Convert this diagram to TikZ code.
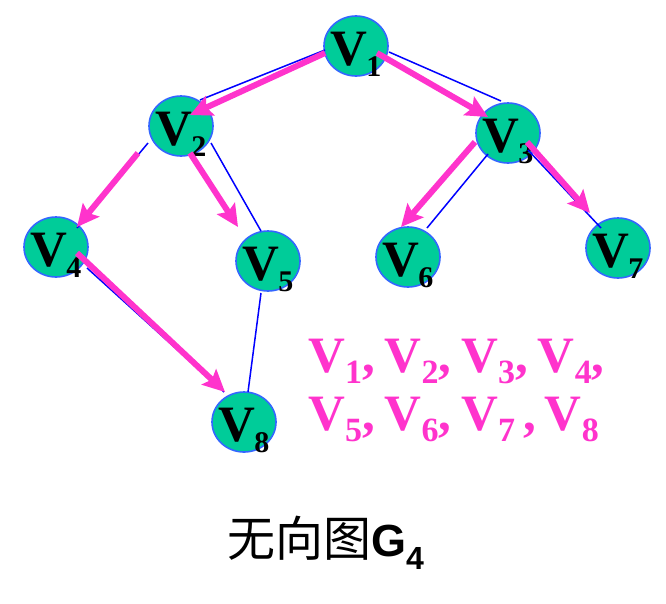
\documentclass[tikz,border=0pt]{standalone}
\usepackage{fontspec}
\setmainfont{Liberation Serif}
\newfontfamily\cjk{Noto Sans CJK SC}
\newfontfamily\arialfont{Liberation Sans}
\usetikzlibrary{arrows.meta,shapes.geometric}

\definecolor{nodefill}{HTML}{00CC99}
\definecolor{nodeborder}{HTML}{3366FF}
\definecolor{edgeblue}{HTML}{0000FF}
\definecolor{pathpink}{HTML}{FF33CC}

% subscript for the vertex labels inside the ellipses
\newcommand\vxsub[1]{\kern-1pt\raisebox{-11pt}{\fontsize{30}{30}\selectfont #1}}
% subscript for the visiting order list
\newcommand\lsub[1]{\raisebox{-11pt}{\fontsize{34}{34}\selectfont #1}}
% separator between the entries of the list
\newcommand\gap{\kern10pt}

\tikzset{
  vertex/.style={ellipse, draw=nodeborder, line width=1.6pt, fill=nodefill,
    minimum width=64pt, minimum height=60pt, inner sep=0pt},
  vlabel/.style={anchor=base, inner sep=0pt, text=black,
    font=\bfseries\fontsize{51}{51}\selectfont},
  edge/.style={draw=edgeblue, line width=1.5pt},
  visit/.style={draw=pathpink, line width=6pt,
    -{Stealth[length=22pt,width=21pt,inset=4pt]}},
  order/.style={anchor=base west, inner sep=0pt, text=pathpink,
    font=\bfseries\fontsize{51}{51}\selectfont},
}

\begin{document}
\begin{tikzpicture}[x=1pt,y=-1pt]
\useasboundingbox (0,0) rectangle (666,603);

% vertices
\node[vertex] (v1) at (356,46) {};
\node[vertex] (v2) at (181,126) {};
\node[vertex] (v3) at (508,133) {};
\node[vertex] (v4) at (56,247) {};
\node[vertex] (v5) at (268,261) {};
\node[vertex] (v6) at (408,257) {};
\node[vertex] (v7) at (618,248) {};
\node[vertex] (v8) at (244,422) {};

% vertex names
\node[vlabel] (l1) at ([shift={(0,19)}]v1.center) {V\vxsub{1}};
\node[vlabel] (l2) at ([shift={(0,19)}]v2.center) {V\vxsub{2}};
\node[vlabel] (l3) at ([shift={(0,19)}]v3.center) {V\vxsub{3}};
\node[vlabel] (l4) at ([shift={(0,19)}]v4.center) {V\vxsub{4}};
\node[vlabel] (l5) at ([shift={(0,19)}]v5.center) {V\vxsub{5}};
\node[vlabel] (l6) at ([shift={(0,19)}]v6.center) {V\vxsub{6}};
\node[vlabel] (l7) at ([shift={(0,19)}]v7.center) {V\vxsub{7}};
\node[vlabel] (l8) at ([shift={(0,19)}]v8.center) {V\vxsub{8}};

% undirected edges
\draw[edge] ([shift={(-31,4)}]v1.center) -- ([shift={(19,-26)}]v2.center);
\draw[edge] ([shift={(33,6)}]v1.center) -- ([shift={(-7,-32)}]v3.center);
\draw[edge] ([shift={(30,17)}]v2.center) -- ([shift={(-7,-30)}]v5.center);
\draw[edge] ([shift={(-33,17)}]v2.center) -- ([shift={(21,-19)}]v4.center);
\draw[edge] ([shift={(31,21)}]v4.center) -- ([shift={(-20,-30)}]v8.center);
\draw[edge] ([shift={(-7,32)}]v5.center) -- ([shift={(4,-30)}]v8.center);
\draw[edge] ([shift={(-20,21)}]v3.center) -- ([shift={(19,-29)}]v6.center);
\draw[edge] ([shift={(20,17)}]v3.center) -- ([shift={(-17,-20)}]v7.center);

% traversal arrows
\draw[visit] ([shift={(-31,7)}]v1.center) -- ([shift={(9,-11)}]v2.center);
\draw[visit] ([shift={(21,7)}]v1.center) -- ([shift={(-20,-16)}]v3.center);
\draw[visit] ([shift={(-43,27)}]v2.center) -- ([shift={(21,-20)}]v4.center);
\draw[visit] ([shift={(9,27)}]v2.center) -- ([shift={(-30,-34)}]v5.center);
\draw[visit] ([shift={(21,6)}]v4.center) -- ([shift={(-19,-30)}]v8.center);
\draw[visit] ([shift={(-33,9)}]v3.center) -- ([shift={(-7,-30)}]v6.center);
\draw[visit] ([shift={(19,9)}]v3.center) -- ([shift={(-28,-35)}]v7.center);

% visiting order
\node[order] (seq1) at (308,372)
  {V\lsub{1},\gap V\lsub{2},\gap V\lsub{3},\gap V\lsub{4},};
\node[order] (seq2) at (308,430)
  {V\lsub{5},\gap V\lsub{6},\gap V\lsub{7}\kern8pt,\kern9pt V\lsub{8}};

% caption
\node[anchor=base west, inner sep=0pt] (cap) at (227,556)
  {\cjk\fontsize{48}{48}\selectfont 无向图{\arialfont\bfseries\fontsize{45}{45}\selectfont G\raisebox{-13pt}{\fontsize{32}{32}\selectfont 4}}};
\end{tikzpicture}
\end{document}
